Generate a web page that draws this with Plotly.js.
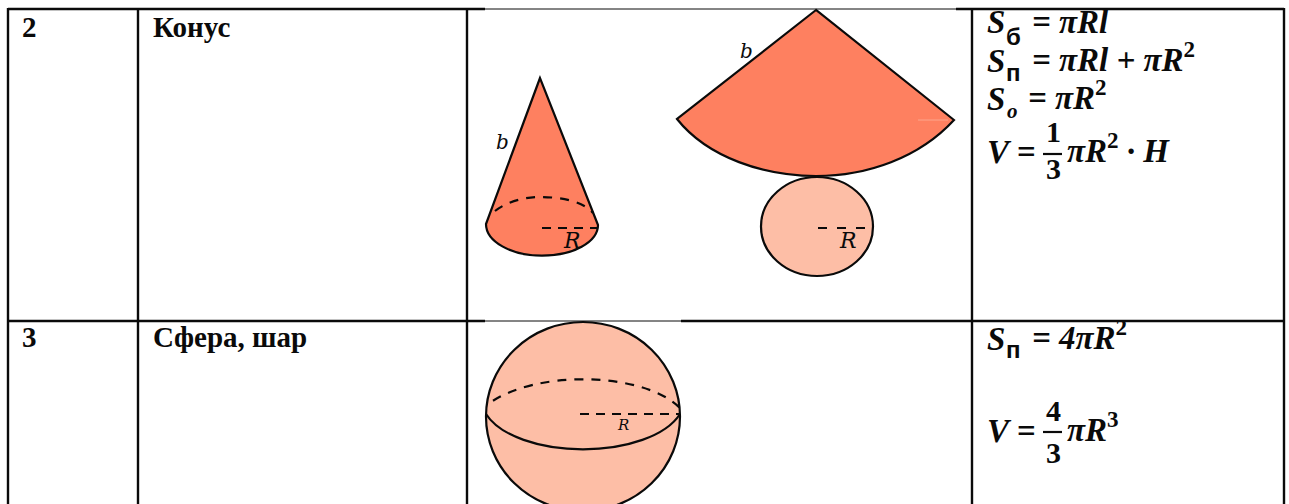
<!DOCTYPE html>
<html>
<head>
<meta charset="utf-8">
<script src="https://cdn.plot.ly/plotly-3.0.1.min.js"></script>
<style>html,body{margin:0;padding:0;background:#fff}</style>
</head>
<body>
<div id="plot" style="width:1289px;height:504px"></div>
<script>
// picture is read in pixels, so both axes run 0..1289 and 504..0
var black = "#0a0a0a";
var dark = "#fe8060";
var light = "#fdbea6";

// table rules
var gridVx = [8, 138, 467, 972, 1284];
var gridHy = [9, 321];
var gridThickX = [[8, 485], [956, 1284]];
var gridThinX = [485, 956];
var gridThickX2 = [[8, 485], [681, 1284]];
var gridThinX2 = [485, 681];

// cone: apex, left foot, then the two halves of the base curve
var coneX = [540, 486, 486, 511, 542, 573, 598, 598];
var coneY = [78, 224, 241.5, 255.7, 255.7, 255.7, 242, 225];
var coneBackX = [495, 505, 522, 540, 560, 583, 593];
var coneBackY = [211, 203, 197, 197, 197, 201, 213];
var coneRadiusX = [542, 598];
var coneRadiusY = [228, 228];

// unrolled side: apex, left corner, then the arc
var sectorX = [816, 677, 708, 765, 816, 867, 919, 954];
var sectorY = [10, 119, 158, 176, 176, 176, 158, 120];
var sectorSeamX = [918, 948];
var sectorSeamY = [120, 120];

// unrolled base
var discX = [761, 873];
var discY = [177, 276];
var discRadiusX = [818, 870];
var discRadiusY = [228, 228];

// sphere
var ballX = [486, 680];
var ballY = [322, 511];
var ballFrontX = [486, 500, 540, 583, 626, 666, 680];
var ballFrontY = [414, 436, 449.3, 449.3, 449.3, 436, 414];
var ballBackX = [493, 515, 548, 583, 620, 660, 680];
var ballBackY = [400.7, 387, 379.3, 379.3, 379.3, 388, 408];
var ballRadiusX = [580, 679];
var ballRadiusY = [414, 414];

// fraction bars
var bar1X = [1043, 1062];
var bar1Y = [154, 154];
var bar2X = [1043, 1062];
var bar2Y = [432, 432];

// table text
var cellText = ["2", "Конус", "3", "Сфера, шар"];
var cellX = [21, 152, 21, 152];
var cellY = [27, 27, 337, 337];

// letters on the figures
var figText = ["b", "R", "b", "R", "R"];
var figX = [502, 572, 746, 848, 623];
var figY = [142, 240, 51, 240, 425];
var figSize = [20, 22, 20, 22, 15];

// formula pieces
var two = '<sup><span style="font-style:normal">2</span></sup>';
var three = '<sup><span style="font-style:normal">3</span></sup>';
var mathText = [
  "S", "= πRl",
  "S", "= πRl + πR" + two,
  "S", "= πR" + two,
  "V =", "πR" + two + " · H",
  "S", "= 4πR" + two,
  "V =", "πR" + three
];
var mathX = [986, 1031, 986, 1031, 986, 1027, 986, 1066, 986, 1031, 986, 1066];
var mathY = [22, 22, 61, 57, 99, 95, 152, 148, 339, 335, 431, 427];

var fracText = ["1", "3", "4", "3"];
var fracX = [1053, 1053, 1053, 1053];
var fracY = [131, 168, 410, 452];

var subText = ["б", "п", "п"];
var subX = [1005, 1005, 1005];
var subY = [36, 72, 349];
var subOText = ["o"];
var subOX = [1006];
var subOY = [111];

var data = [];

function line(x, y, width, dash, color) {
  data.push({
    x: x, y: y, type: "scatter", mode: "lines", hoverinfo: "skip",
    line: {color: color || black, width: width, dash: dash || "solid"}
  });
}

// M first point, L the next nLines points, then C through the rest in threes
function curve(x, y, nLines, close) {
  var p = "M " + x[0] + " " + y[0];
  var i = 1;
  for (; i <= nLines; i++) p += " L " + x[i] + " " + y[i];
  for (; i + 2 < x.length; i += 3) {
    p += " C " + x[i] + " " + y[i] + " " + x[i + 1] + " " + y[i + 1] + " " + x[i + 2] + " " + y[i + 2];
  }
  return close ? p + " Z" : p;
}

// straight dashes and rules
line(coneRadiusX, coneRadiusY, 2.2, "9px,7px");
line(discRadiusX, discRadiusY, 2.2, "9px,10px");
line(ballRadiusX, ballRadiusY, 2.2, "9px,7px");
line(sectorSeamX, sectorSeamY, 1, null, "#fda58c");
line(bar1X, bar1Y, 2.2);
line(bar2X, bar2Y, 2.2);

gridVx.forEach(function (v) { line([v, v], [gridHy[0] - 1, 504], 2.4); });
gridThickX.forEach(function (s) { line(s, [gridHy[0], gridHy[0]], 2.4); });
line(gridThinX, [gridHy[0], gridHy[0]], 1);
gridThickX2.forEach(function (s) { line(s, [gridHy[1], gridHy[1]], 2.4); });
line(gridThinX2, [gridHy[1], gridHy[1]], 1);

var stroke = {color: black, width: 2.2};
var dashed = {color: black, width: 2.2, dash: "9px,8px"};

var shapes = [
  {type: "path", layer: "below", xref: "x", yref: "y", path: curve(coneX, coneY, 1, true), fillcolor: dark, line: stroke},
  {type: "path", layer: "below", xref: "x", yref: "y", path: curve(sectorX, sectorY, 1, true), fillcolor: dark, line: stroke},
  {type: "circle", layer: "below", xref: "x", yref: "y", x0: discX[0], x1: discX[1], y0: discY[0], y1: discY[1], fillcolor: light, line: stroke},
  {type: "circle", layer: "below", xref: "x", yref: "y", x0: ballX[0], x1: ballX[1], y0: ballY[0], y1: ballY[1], fillcolor: light, line: stroke},
  {type: "path", layer: "below", xref: "x", yref: "y", path: curve(ballFrontX, ballFrontY, 0), line: stroke},
  {type: "path", layer: "below", xref: "x", yref: "y", path: curve(ballBackX, ballBackY, 0), line: dashed},
  {type: "path", layer: "below", xref: "x", yref: "y", path: curve(coneBackX, coneBackY, 0), line: dashed}
];

var annotations = [];

function label(text, x, y, xanchor, family, size, weight, style) {
  annotations.push({
    text: text, x: x, y: y, xref: "x", yref: "y", showarrow: false,
    xanchor: xanchor, yanchor: "middle", borderpad: 0,
    font: {family: family, size: size, color: black, weight: weight, style: style}
  });
}

cellText.forEach(function (t, i) {
  label(t, cellX[i], cellY[i], "left", "Liberation Serif", 29, "bold", "normal");
});
figText.forEach(function (t, i) {
  label(t, figX[i], figY[i], "center", "DejaVu Serif", figSize[i], "normal", "italic");
});
mathText.forEach(function (t, i) {
  label(t, mathX[i], mathY[i], "left", "Liberation Serif", 33, "bold", "italic");
});
fracText.forEach(function (t, i) {
  label(t, fracX[i], fracY[i], "center", "Liberation Serif", 30, "bold", "normal");
});
subText.forEach(function (t, i) {
  label(t, subX[i], subY[i], "left", "Liberation Sans", 24, "bold", "normal");
});
subOText.forEach(function (t, i) {
  label(t, subOX[i], subOY[i], "left", "Liberation Serif", 21, "bold", "italic");
});

var layout = {
  width: 1289,
  height: 504,
  margin: {l: 0, r: 0, t: 0, b: 0},
  paper_bgcolor: "#fff",
  plot_bgcolor: "rgba(0,0,0,0)",
  showlegend: false,
  xaxis: {range: [0, 1289], visible: false, fixedrange: true},
  yaxis: {range: [504, 0], visible: false, fixedrange: true},
  shapes: shapes,
  annotations: annotations
};

Plotly.newPlot("plot", data, layout, {displayModeBar: false, staticPlot: true});
</script>
</body>
</html>
